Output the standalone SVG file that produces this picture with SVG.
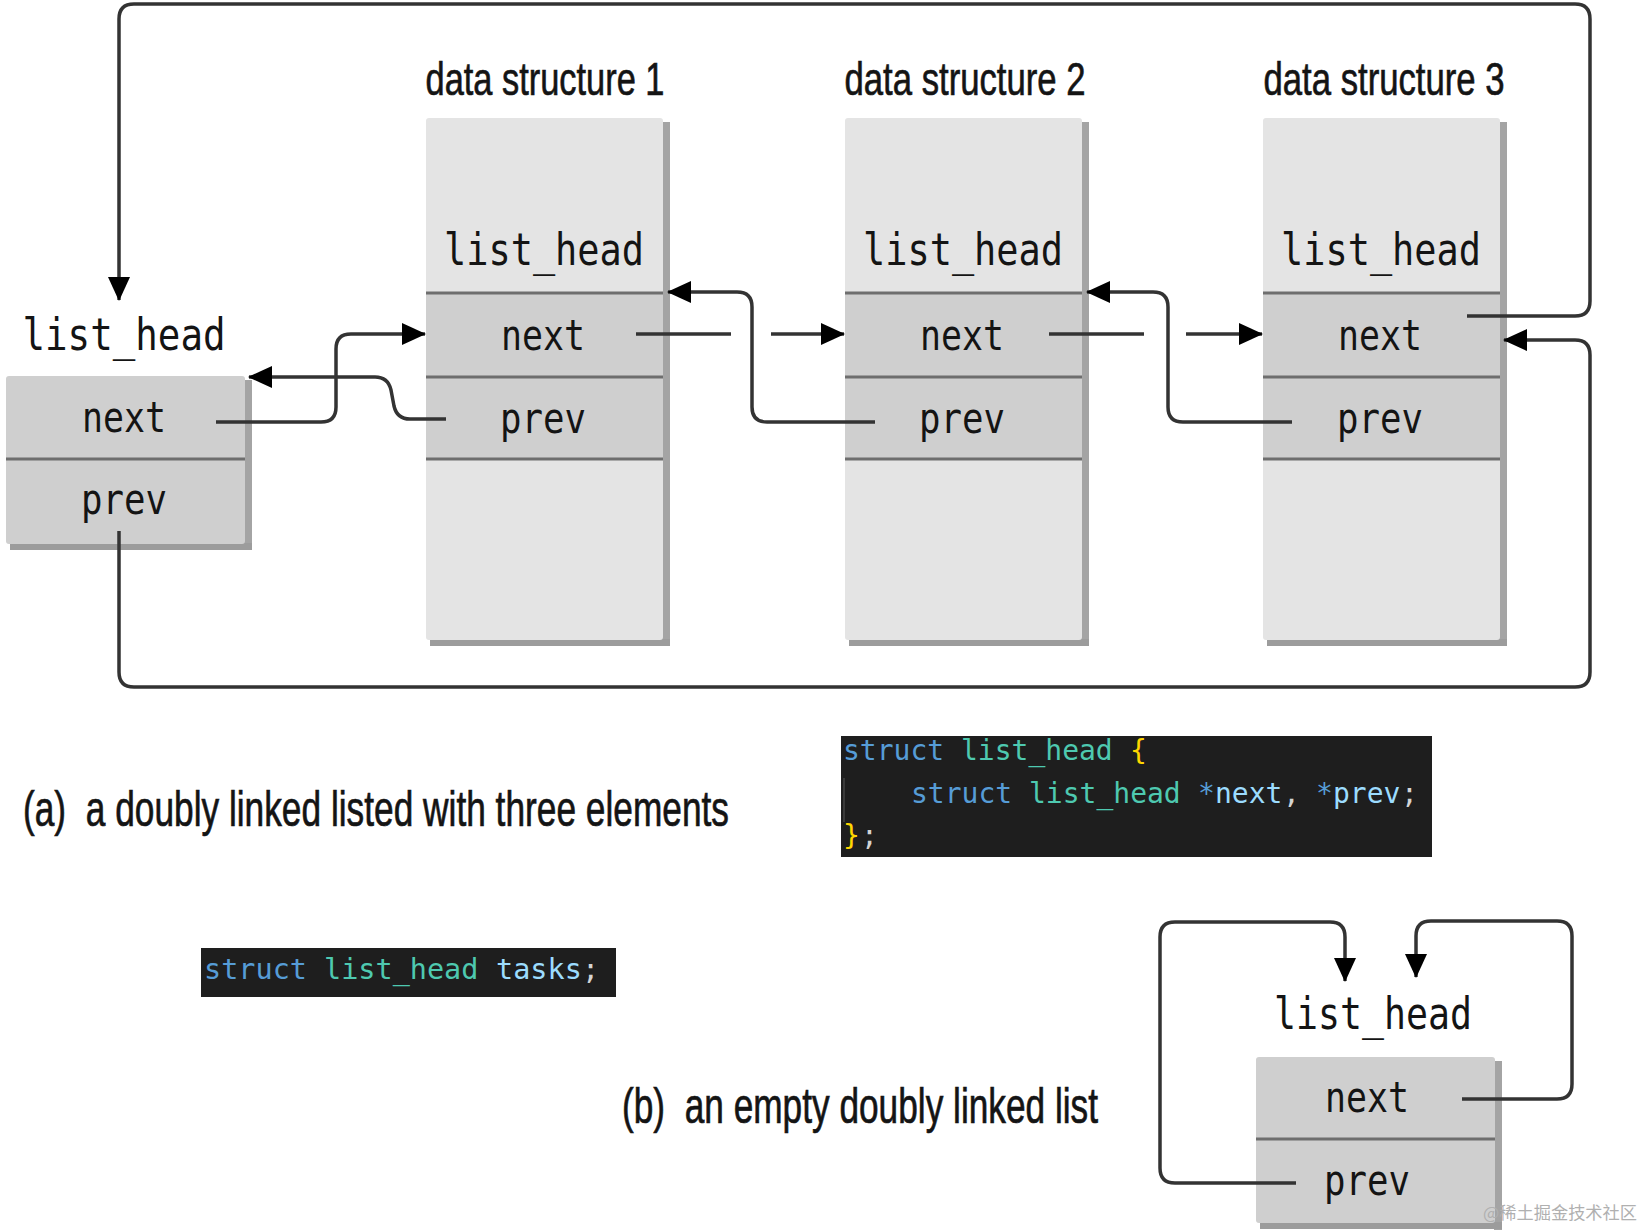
<svg xmlns="http://www.w3.org/2000/svg" width="1649" height="1230" viewBox="0 0 1649 1230">
<style>
.body{fill:#e4e4e4}
.row{fill:#cfcfcf}
.shR{fill:#a4a4a4}
.shB{fill:#9c9c9c}
.div{stroke:#6e6e6e;stroke-width:3}
.mono{font-family:"DejaVu Sans Mono","Liberation Mono",monospace;fill:#141414}
.lbl{font-size:44px}
.fld{font-size:42px}
.title{font-family:"Liberation Sans",Arial,sans-serif;font-size:34.4px;fill:#141414;stroke:#141414;stroke-width:0.5}
.cap{font-family:"Liberation Sans",Arial,sans-serif;font-size:35.3px;fill:#141414;stroke:#141414;stroke-width:0.5}
.code{font-family:"DejaVu Sans Mono","Liberation Mono",monospace;font-size:28px}
.code2{font-family:"DejaVu Sans Mono","Liberation Mono",monospace;font-size:28.5px}
.kw{fill:#569cd6}
.ty{fill:#4ec9b0}
.br{fill:#ffd700}
.vr{fill:#9cdcfe}
.pl{fill:#d4d4d4}
.conn{fill:none;stroke:#333;stroke-width:3.5}
.arr{fill:none;stroke:#333;stroke-width:3.5;marker-end:url(#ah)}
</style>
<defs>
<marker id="ah" viewBox="0 0 24 22" refX="23" refY="11" markerWidth="24" markerHeight="22" markerUnits="userSpaceOnUse" orient="auto">
<path d="M0,0 L24,11 L0,22 z" fill="#000"/>
</marker>
</defs>
<rect width="1649" height="1230" fill="#fff"/>

<!-- left head -->
<g id="head">
<text class="mono lbl" x="124" y="350" text-anchor="middle" textLength="203" lengthAdjust="spacingAndGlyphs">list_head</text>
<rect class="shR" x="244" y="380" width="8" height="170"/>
<rect class="shB" x="10" y="543" width="242" height="7"/>
<rect class="row" x="6" y="376" width="239" height="168" rx="3"/>
<line class="div" x1="6" y1="459" x2="245" y2="459"/>
<text class="mono fld" x="124" y="432" text-anchor="middle" textLength="84" lengthAdjust="spacingAndGlyphs">next</text>
<text class="mono fld" x="124" y="514" text-anchor="middle" textLength="86" lengthAdjust="spacingAndGlyphs">prev</text>
</g>

<!-- data structure 1 -->
<g id="ds1">
<text class="title" transform="translate(545,95) scale(1,1.34)" text-anchor="middle" textLength="239" lengthAdjust="spacingAndGlyphs">data structure 1</text>
<rect class="shR" x="662" y="122" width="8" height="524"/>
<rect class="shB" x="430" y="639" width="240" height="7"/>
<rect class="body" x="426" y="118" width="237" height="522" rx="3"/>
<rect class="row" x="426" y="293" width="237" height="166"/>
<line class="div" x1="426" y1="293" x2="663" y2="293"/>
<line class="div" x1="426" y1="377" x2="663" y2="377"/>
<line class="div" x1="426" y1="459" x2="663" y2="459"/>
<text class="mono lbl" x="544" y="265" text-anchor="middle" textLength="200" lengthAdjust="spacingAndGlyphs">list_head</text>
<text class="mono fld" x="543" y="350" text-anchor="middle" textLength="84" lengthAdjust="spacingAndGlyphs">next</text>
<text class="mono fld" x="543" y="433" text-anchor="middle" textLength="86" lengthAdjust="spacingAndGlyphs">prev</text>
</g>

<!-- data structure 2 -->
<g id="ds2">
<text class="title" transform="translate(965,95) scale(1,1.34)" text-anchor="middle" textLength="241" lengthAdjust="spacingAndGlyphs">data structure 2</text>
<rect class="shR" x="1081" y="122" width="8" height="524"/>
<rect class="shB" x="849" y="639" width="240" height="7"/>
<rect class="body" x="845" y="118" width="237" height="522" rx="3"/>
<rect class="row" x="845" y="293" width="237" height="166"/>
<line class="div" x1="845" y1="293" x2="1082" y2="293"/>
<line class="div" x1="845" y1="377" x2="1082" y2="377"/>
<line class="div" x1="845" y1="459" x2="1082" y2="459"/>
<text class="mono lbl" x="963" y="265" text-anchor="middle" textLength="200" lengthAdjust="spacingAndGlyphs">list_head</text>
<text class="mono fld" x="962" y="350" text-anchor="middle" textLength="84" lengthAdjust="spacingAndGlyphs">next</text>
<text class="mono fld" x="962" y="433" text-anchor="middle" textLength="86" lengthAdjust="spacingAndGlyphs">prev</text>
</g>

<!-- data structure 3 -->
<g id="ds3">
<text class="title" transform="translate(1384,95) scale(1,1.34)" text-anchor="middle" textLength="241" lengthAdjust="spacingAndGlyphs">data structure 3</text>
<rect class="shR" x="1499" y="122" width="8" height="524"/>
<rect class="shB" x="1267" y="639" width="240" height="7"/>
<rect class="body" x="1263" y="118" width="237" height="522" rx="3"/>
<rect class="row" x="1263" y="293" width="237" height="166"/>
<line class="div" x1="1263" y1="293" x2="1500" y2="293"/>
<line class="div" x1="1263" y1="377" x2="1500" y2="377"/>
<line class="div" x1="1263" y1="459" x2="1500" y2="459"/>
<text class="mono lbl" x="1381" y="265" text-anchor="middle" textLength="200" lengthAdjust="spacingAndGlyphs">list_head</text>
<text class="mono fld" x="1380" y="350" text-anchor="middle" textLength="84" lengthAdjust="spacingAndGlyphs">next</text>
<text class="mono fld" x="1380" y="433" text-anchor="middle" textLength="86" lengthAdjust="spacingAndGlyphs">prev</text>
</g>

<!-- empty list head (b) -->
<g id="empty-head">
<text class="mono lbl" x="1373" y="1029" text-anchor="middle" textLength="198" lengthAdjust="spacingAndGlyphs">list_head</text>
<rect class="shR" x="1494" y="1061" width="8" height="169"/>
<rect class="shB" x="1260" y="1222" width="242" height="7"/>
<rect class="row" x="1256" y="1057" width="239" height="166" rx="3"/>
<line class="div" x1="1256" y1="1139" x2="1495" y2="1139"/>
<text class="mono fld" x="1367" y="1112" text-anchor="middle" textLength="84" lengthAdjust="spacingAndGlyphs">next</text>
<text class="mono fld" x="1367" y="1195" text-anchor="middle" textLength="86" lengthAdjust="spacingAndGlyphs">prev</text>
</g>

<!-- connectors -->
<g id="connectors">
<path class="arr" d="M1467,316 H1575 Q1590,316 1590,301 V19 Q1590,4 1575,4 H134 Q119,4 119,19 V300"/>
<path class="arr" d="M119,531 V672 Q119,687 134,687 H1575 Q1590,687 1590,672 V355 Q1590,340 1575,340 H1504"/>
<path class="arr" d="M216,422 H321 Q336,422 336,407 V349 Q336,334 351,334 H425"/>
<path class="arr" d="M446,419 H410 Q397,419 394,406 L391,390 Q388,377 375,377 H249"/>
<path class="conn" d="M636,334 H731"/>
<path class="arr" d="M771,334 H844"/>
<path class="arr" d="M875,422 H767 Q752,422 752,407 V307 Q752,292 737,292 H668"/>
<path class="conn" d="M1049,334 H1144"/>
<path class="arr" d="M1186,334 H1262"/>
<path class="arr" d="M1292,422 H1183 Q1168,422 1168,407 V307 Q1168,292 1153,292 H1087"/>
<path class="arr" d="M1296,1183 H1175 Q1160,1183 1160,1168 V937 Q1160,922 1175,922 H1330 Q1345,922 1345,937 V981"/>
<path class="arr" d="M1462,1099 H1557 Q1572,1099 1572,1084 V936 Q1572,921 1557,921 H1431 Q1416,921 1416,936 V977"/>
</g>

<!-- captions -->
<text class="cap" transform="translate(23,826) scale(1,1.4)" textLength="706" lengthAdjust="spacingAndGlyphs">(a)&#160; a doubly linked listed with three elements</text>
<text class="cap" transform="translate(622,1123) scale(1,1.4)" textLength="476" lengthAdjust="spacingAndGlyphs">(b)&#160; an empty doubly linked list</text>

<!-- code block 1 -->
<g id="code1">
<rect x="841" y="736" width="591" height="121" fill="#1e1e1e"/>
<line x1="844" y1="778" x2="844" y2="822" stroke="#444" stroke-width="1.5"/>
<text class="code kw" x="843" y="760">struct</text>
<text class="code ty" x="961" y="760">list_head</text>
<text class="code br" x="1130" y="760">{</text>
<text class="code kw" x="911" y="803">struct</text>
<text class="code ty" x="1029" y="803">list_head</text>
<text class="code kw" x="1198" y="803">*</text>
<text class="code vr" x="1215" y="803">next</text>
<text class="code pl" x="1283" y="803">,</text>
<text class="code kw" x="1316" y="803">*</text>
<text class="code vr" x="1333" y="803">prev</text>
<text class="code pl" x="1401" y="803">;</text>
<text class="code br" x="843" y="845">}</text>
<text class="code pl" x="861" y="845">;</text>
</g>

<!-- code block 2 -->
<g id="code2">
<rect x="201" y="948" width="415" height="49" fill="#1e1e1e"/>
<text class="code2 kw" x="204" y="979">struct</text>
<text class="code2 ty" x="324" y="979">list_head</text>
<text class="code2 vr" x="496" y="979">tasks</text>
<text class="code2 pl" x="582" y="979">;</text>
</g>

<text x="1483" y="1219" font-family="'Noto Sans CJK SC','Liberation Sans',sans-serif" font-size="17" fill="#b0b0b0" textLength="154" lengthAdjust="spacingAndGlyphs">@稀土掘金技术社区</text>
</svg>
